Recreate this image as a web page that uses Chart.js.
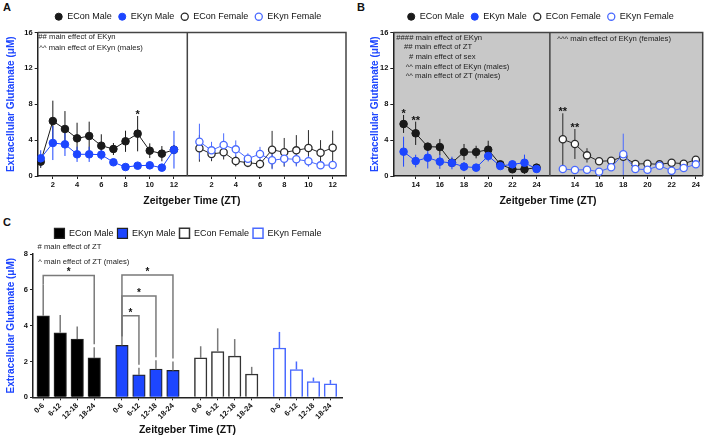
<!DOCTYPE html>
<html>
<head>
<meta charset="utf-8">
<script src="https://cdn.jsdelivr.net/npm/chart.js@4.4.0/dist/chart.umd.min.js"></script>
<style>
  body { margin: 0; background: #fff; width: 708px; height: 439px; position: relative; overflow: hidden;
         font-family: Arial, "Liberation Sans", sans-serif; }
  canvas { position: absolute; }
  .tag { position: absolute; font-weight: bold; font-size: 11px; color: #111; }
</style>
</head>
<body>
<div class="tag" style="left:3px;top:1px">A</div>
<div class="tag" style="left:357px;top:1px">B</div>
<div class="tag" style="left:3px;top:216px">C</div>
<canvas id="chartA" width="354" height="210" style="left:0;top:0"></canvas>
<canvas id="chartB" width="354" height="210" style="left:354px;top:0"></canvas>
<canvas id="chartC" width="360" height="229" style="left:0;top:210px"></canvas>
<script>
// ---- data: panel A (ZT 1-12) ----
const ztA = [1, 2, 3, 4, 5, 6, 7, 8, 9, 10, 11, 12];
const econMaleA = [1.6, 6.13, 5.24, 4.2, 4.46, 3.38, 3.01, 3.87, 4.72, 2.82, 2.49, 2.93];
const econMaleAErr = [0.7, 2.27, 2.0, 1.74, 1.6, 1.27, 0.67, 1.18, 1.97, 0.82, 0.85, 0.5];
const ekynMaleA = [1.97, 3.68, 3.53, 2.42, 2.42, 2.38, 1.53, 1.0, 1.15, 1.19, 0.93, 2.93];
const ekynMaleAErr = [0.9, 1.9, 1.3, 0.85, 0.85, 0.6, 0.3, 0.3, 0.3, 0.3, 0.3, 2.1];
const econFemaleA = [3.09, 2.45, 2.64, 1.67, 1.48, 1.34, 2.93, 2.64, 2.86, 3.12, 2.6, 3.16];
const econFemaleAErr = [1.5, 0.8, 0.8, 0.6, 0.5, 0.5, 2.1, 1.6, 1.7, 2.0, 1.4, 1.9];
const ekynFemaleA = [3.83, 2.86, 3.46, 2.97, 1.93, 2.45, 1.75, 1.93, 1.86, 1.64, 1.19, 1.23];
const ekynFemaleAErr = [2.0, 0.95, 1.3, 1.0, 0.6, 0.8, 1.0, 0.8, 0.8, 0.6, 0.4, 0.3];
const tickLabelsA = ["2", "4", "6", "8", "10", "12"];

// ---- data: panel B (ZT 13-24) ----
const ztB = [13, 14, 15, 16, 17, 18, 19, 20, 21, 22, 23, 24];
const econMaleB = [5.8, 4.76, 3.27, 3.23, 1.48, 2.67, 2.67, 2.93, 1.3, 0.75, 0.75, 0.93];
const econMaleBErr = [1.0, 1.3, 0.3, 0.9, 0.3, 0.9, 0.7, 1.0, 0.3, 0.3, 0.5, 0.2];
const ekynMaleB = [2.71, 1.67, 2.04, 1.6, 1.45, 1.04, 0.93, 2.23, 1.11, 1.3, 1.48, 0.78];
const ekynMaleBErr = [1.67, 0.7, 1.2, 0.8, 0.7, 0.5, 0.3, 0.6, 0.3, 0.4, 0.9, 0.3];
const econFemaleB = [4.09, 3.57, 2.3, 1.64, 1.7, 2.15, 1.34, 1.37, 1.3, 1.48, 1.37, 1.82];
const econFemaleBErr = [2.9, 1.67, 0.8, 0.4, 0.3, 0.5, 0.3, 0.2, 0.2, 0.4, 0.2, 0.4];
const ekynFemaleB = [0.78, 0.67, 0.7, 0.48, 0.97, 2.42, 0.78, 0.7, 1.15, 0.59, 0.89, 1.3];
const ekynFemaleBErr = [0.2, 0.2, 0.2, 0.2, 0.3, 2.3, 0.2, 0.2, 0.3, 0.2, 0.2, 0.3];
const tickLabelsB = ["14", "16", "18", "20", "22", "24"];

// ---- data: panel C (binned) ----
const ztBins = ["0-6", "6-12", "12-18", "18-24"];
const econMaleC = [4.55, 3.6, 3.25, 2.2];
const econMaleCErr = [1.75, 1.0, 0.7, 0.6];
const ekynMaleC = [2.9, 1.25, 1.57, 1.5];
const ekynMaleCErr = [0.5, 0.4, 0.5, 0.5];
const econFemaleC = [2.2, 2.55, 2.3, 1.3];
const econFemaleCErr = [0.65, 1.3, 0.95, 0.4];
const ekynFemaleC = [2.75, 1.55, 0.88, 0.75];
const ekynFemaleCErr = [0.9, 0.45, 0.22, 0.22];

// significance marks: [dataset, point, label]
const starsA = [[0, 8, "*"]];
const starsB = [[0, 0, "*"], [0, 1, "**"], [2, 0, "**"], [2, 1, "**"]];
// brackets in C: group, from bin, to bin, height
const bracketsC = [[0, 0, 3, 6.8], [1, 0, 1, 4.55], [1, 0, 2, 5.66], [1, 0, 3, 6.83]];

const notesA = ["## main effect of EKyn", "^^ main effect of EKyn (males)"];
const notesB = ["#### main effect of EKyn", "## main effect of ZT", "# main effect of sex",
                "^^ main effect of EKyn (males)", "^^ main effect of ZT (males)"];
const notesB2 = ["^^^ main effect of EKyn (females)"];
const notesC = ["# main effect of ZT", "^ main effect of ZT (males)"];

Chart.defaults.font.family = "Arial, 'Liberation Sans', sans-serif";
Chart.defaults.color = '#111';

const BLUE = '#1d46ff', BLUE2 = '#4a6aff', INK = '#1a1a1a', GREY = '#7a7a7a';
const Y_TITLE = 'Extracellular Glutamate (\u03bcM)';

const pts = (xs, ys, off) => xs.map((x, i) => ({ x: x + off, y: ys[i] }));

function legendTune(height, shift) {
  return {
    id: 'legendTune',
    beforeLayout(chart) {
      const lg = chart.legend;
      if (lg && !lg._tuned) {
        const fit = lg.fit;
        lg.fit = function () { fit.call(this); this.height = height; };
        lg._tuned = true;
      }
    },
    afterLayout(chart) {
      chart.legend.left += shift;
      chart.legend.right += shift;
    }
  };
}

const errorBars = {
  id: 'errorBars',
  beforeDatasetsDraw(chart) {
    if (chart.config.type === 'bar') return;
    const ctx = chart.ctx, ys = chart.scales.y;
    chart.data.datasets.forEach((ds, di) => {
      const meta = chart.getDatasetMeta(di);
      ctx.save();
      ctx.strokeStyle = ds.borderColor;
      ctx.lineWidth = 1;
      meta.data.forEach((pt, i) => {
        const v = ds.data[i].y, e = ds.errors[i];
        ctx.beginPath();
        ctx.moveTo(pt.x, ys.getPixelForValue(Math.max(v - e, 0)));
        ctx.lineTo(pt.x, ys.getPixelForValue(v + e));
        ctx.stroke();
      });
      ctx.restore();
    });
  },
  afterDatasetsDraw(chart) {
    if (chart.config.type !== 'bar') return;
    const ctx = chart.ctx, ys = chart.scales.y;
    chart.data.datasets.forEach((ds, di) => {
      const meta = chart.getDatasetMeta(di);
      ctx.save();
      ctx.strokeStyle = ds.errColor;
      ctx.lineWidth = 1.5;
      meta.data.forEach((bar, i) => {
        const v = ds.data[i].y, e = ds.errors[i];
        ctx.beginPath();
        ctx.moveTo(bar.x, bar.y);
        ctx.lineTo(bar.x, ys.getPixelForValue(v + e));
        ctx.stroke();
      });
      ctx.restore();
    });
  }
};

function starsPlugin(list) {
  return {
    id: 'stars',
    afterDatasetsDraw(chart) {
      const ctx = chart.ctx, ys = chart.scales.y;
      ctx.save();
      ctx.fillStyle = '#111';
      ctx.font = "bold 11px Arial, 'Liberation Sans', sans-serif";
      ctx.textAlign = 'center';
      ctx.textBaseline = 'middle';
      list.forEach(([di, i, txt]) => {
        const ds = chart.data.datasets[di];
        const pt = chart.getDatasetMeta(di).data[i];
        const top = ys.getPixelForValue(ds.data[i].y + ds.errors[i]);
        ctx.fillText(txt, pt.x, top - 1);
      });
      ctx.restore();
    }
  };
}

// notes: lines with per-line left offsets from the plot corner
function notesPlugin(blocks) {
  return {
    id: 'notes',
    afterDraw(chart) {
      const ctx = chart.ctx, a = chart.chartArea;
      ctx.save();
      ctx.fillStyle = '#222';
      ctx.font = "7.7px Arial, 'Liberation Sans', sans-serif";
      ctx.textBaseline = 'middle';
      blocks.forEach(b => {
        b.lines.forEach((t, i) => {
          ctx.fillText(t, a.left + b.dx[i], a.top + b.dy + i * b.step);
        });
      });
      ctx.restore();
    }
  };
}

function framePlugin(divider, fill) {
  return {
    id: 'frame',
    beforeDraw(chart) {
      if (!fill) return;
      const { ctx, chartArea: a } = chart;
      ctx.save();
      ctx.fillStyle = fill;
      ctx.fillRect(a.left, a.top, a.width, a.height);
      ctx.restore();
    },
    beforeDatasetsDraw(chart) {
      const { ctx, chartArea: a } = chart;
      const xd = chart.scales.x.getPixelForValue(divider);
      ctx.save();
      ctx.strokeStyle = '#444';
      ctx.lineWidth = 1.5;
      ctx.beginPath();
      ctx.moveTo(a.left, a.top); ctx.lineTo(a.right, a.top); ctx.lineTo(a.right, a.bottom);
      ctx.moveTo(xd, a.top); ctx.lineTo(xd, a.bottom);
      ctx.stroke();
      ctx.restore();
    }
  };
}

function bracketPlugin(list, step) {
  return {
    id: 'brackets',
    afterDatasetsDraw(chart) {
      const ctx = chart.ctx, xs = chart.scales.x, ys = chart.scales.y;
      ctx.save();
      list.forEach(([g, from, to, h]) => {
        const ds = chart.data.datasets[g];
        const x1 = xs.getPixelForValue(g * step + from), x2 = xs.getPixelForValue(g * step + to);
        const yb = ys.getPixelForValue(h);
        const y1 = ys.getPixelForValue(ds.data[from].y + ds.errors[from]);
        const y2 = ys.getPixelForValue(ds.data[to].y + ds.errors[to]) - 3;
        ctx.strokeStyle = GREY;
        ctx.lineWidth = 1.5;
        ctx.beginPath();
        ctx.moveTo(x1, y1); ctx.lineTo(x1, yb); ctx.lineTo(x2, yb); ctx.lineTo(x2, y2);
        ctx.stroke();
        ctx.fillStyle = '#111';
        ctx.font = "bold 10px Arial, 'Liberation Sans', sans-serif";
        ctx.textAlign = 'center';
        ctx.textBaseline = 'middle';
        ctx.fillText('*', (x1 + x2) / 2, yb - 3);
      });
      ctx.restore();
    }
  };
}

function lineSet(label, data, errs, color, filled, order) {
  return {
    label, data, errors: errs, order,
    borderColor: color, borderWidth: 1,
    pointBackgroundColor: filled ? color : '#fff',
    pointBorderColor: color,
    pointBorderWidth: filled ? 1 : 1.3,
    pointRadius: filled ? 3.8 : 3.6,
    tension: 0, fill: false
  };
}

function yAxis(max, step, width, titlePad) {
  return {
    min: 0, max,
    ticks: { stepSize: step, font: { size: 7.5, weight: 'bold' }, color: '#111', padding: 2 },
    grid: { display: true, drawOnChartArea: false, tickLength: 3, color: '#222' },
    border: { display: true, color: '#222', width: 1.5 },
    title: { display: true, text: Y_TITLE, color: BLUE, font: { size: 10, weight: 'bold' },
             padding: { top: titlePad, bottom: 0 } },
    afterFit: s => { s.width = width; }
  };
}

function xTitle(padBottom) {
  return { display: true, text: 'Zeitgeber Time (ZT)', color: '#111',
           font: { size: 10.5, weight: 'bold' }, padding: { top: 0, bottom: padBottom } };
}

const lineLegend = {
  position: 'top',
  labels: {
    usePointStyle: true, pointStyle: 'circle', boxWidth: 8, boxHeight: 5, padding: 6.5,
    font: { size: 9 }, color: '#111',
    sort: (a, b) => a.datasetIndex - b.datasetIndex
  }
};

function panelLine(id, zt, sets, off, divider, xmin, xmax, labels, opts) {
  const pos = [];
  [0, off].forEach(o => labels.forEach(l => pos.push(Number(l) + o)));
  new Chart(document.getElementById(id), {
    type: 'line',
    data: {
      datasets: [
        lineSet('ECon Male', pts(zt, sets[0], 0), sets[1], INK, true, 1),
        lineSet('EKyn Male', pts(zt, sets[2], 0), sets[3], BLUE, true, 0),
        lineSet('ECon Female', pts(zt, sets[4], off), sets[5], '#2a2a2a', false, 1),
        lineSet('EKyn Female', pts(zt, sets[6], off), sets[7], BLUE2, false, 0)
      ]
    },
    options: {
      responsive: false, animation: false, events: [],
      layout: { padding: { top: 5.7, right: opts.padRight, left: 0, bottom: 0 } },
      plugins: { legend: lineLegend, tooltip: { enabled: false } },
      scales: {
        x: {
          type: 'linear', min: xmin, max: xmax,
          afterBuildTicks: s => { s.ticks = pos.map(v => ({ value: v })); },
          afterFit: s => { s.height = 34; },
          ticks: {
            autoSkip: false, maxRotation: 0, padding: 1, color: '#111',
            font: { size: 7.5, weight: 'bold' },
            callback: (v, i) => labels[i % labels.length]
          },
          grid: { display: true, drawOnChartArea: false, tickLength: 3, color: '#222' },
          border: { display: true, color: '#222', width: 1.5 },
          title: xTitle(2.7)
        },
        y: yAxis(16, 4, opts.axisW, opts.titlePad)
      }
    },
    plugins: [legendTune(26.8, opts.shift), errorBars, framePlugin(divider, opts.fill),
              starsPlugin(opts.stars), notesPlugin(opts.notes)]
  });
}

panelLine('chartA', ztA,
  [econMaleA, econMaleAErr, ekynMaleA, ekynMaleAErr, econFemaleA, econFemaleAErr, ekynFemaleA, ekynFemaleAErr],
  13.1, 13.1, 0.75, 26.2, tickLabelsA,
  { padRight: 8, axisW: 37.7, titlePad: 5.5, shift: 15, fill: null, stars: starsA,
    notes: [{ lines: notesA, dx: [0.6, 1.6], dy: 4, step: 11.5 }] });

panelLine('chartB', ztB,
  [econMaleB, econMaleBErr, ekynMaleB, ekynMaleBErr, econFemaleB, econFemaleBErr, ekynFemaleB, ekynFemaleBErr],
  13.17, 25.1, 12.15, 37.74, tickLabelsB,
  { padRight: 5, axisW: 39.3, titlePad: 15.7, shift: 12, fill: '#c8c8c8', stars: starsB,
    notes: [{ lines: notesB, dx: [3, 10.7, 15.7, 12.4, 12.4], dy: 5, step: 9.7 },
            { lines: notesB2, dx: [164], dy: 6, step: 10 }] });

// ---- panel C: bars ----
const groupStep = 4.63;
const barPts = (g, vals) => vals.map((v, i) => ({ x: g * groupStep + i, y: v }));
const binPos = [];
[0, 1, 2, 3].forEach(g => ztBins.forEach((b, i) => binPos.push(g * groupStep + i)));

new Chart(document.getElementById('chartC'), {
  type: 'bar',
  data: {
    datasets: [
      { label: 'ECon Male', data: barPts(0, econMaleC), errors: econMaleCErr, errColor: GREY,
        backgroundColor: '#000', borderColor: '#222', borderWidth: 1.2 },
      { label: 'EKyn Male', data: barPts(1, ekynMaleC), errors: ekynMaleCErr, errColor: GREY,
        backgroundColor: BLUE, borderColor: '#222', borderWidth: 1.2 },
      { label: 'ECon Female', data: barPts(2, econFemaleC), errors: econFemaleCErr, errColor: GREY,
        backgroundColor: '#fff', borderColor: '#333', borderWidth: 1.5 },
      { label: 'EKyn Female', data: barPts(3, ekynFemaleC), errors: ekynFemaleCErr, errColor: BLUE2,
        backgroundColor: '#fff', borderColor: BLUE2, borderWidth: 1.5 }
    ]
  },
  options: {
    responsive: false, animation: false, events: [],
    grouped: false, barThickness: 12.5, borderSkipped: 'bottom',
    layout: { padding: { top: 14.3, right: 18, left: 0, bottom: 0 } },
    plugins: {
      legend: { position: 'top',
        labels: { boxWidth: 10, boxHeight: 10, padding: 4, font: { size: 9 }, color: '#111' } },
      tooltip: { enabled: false }
    },
    scales: {
      x: {
        type: 'linear', min: -0.6, max: 17.57, offset: false,
        afterBuildTicks: s => { s.ticks = binPos.map(v => ({ value: v })); },
        afterFit: s => { s.height = 41.7; },
        ticks: {
          autoSkip: false, minRotation: 45, maxRotation: 45, padding: 1, color: '#111',
          font: { size: 7.5, weight: 'bold' },
          callback: (v, i) => ztBins[i % ztBins.length]
        },
        grid: { display: true, drawOnChartArea: false, offset: false, tickLength: 3, color: '#222' },
        border: { display: true, color: '#222', width: 1.5 },
        title: xTitle(2.7)
      },
      y: yAxis(8, 2, 33, 5.7)
    }
  },
  plugins: [legendTune(29.7, 17), errorBars, bracketPlugin(bracketsC, groupStep),
            notesPlugin([{ lines: notesC, dx: [4.5, 5.3], dy: -6.7, step: 14.4 }])]
});
</script>
</body>
</html>
